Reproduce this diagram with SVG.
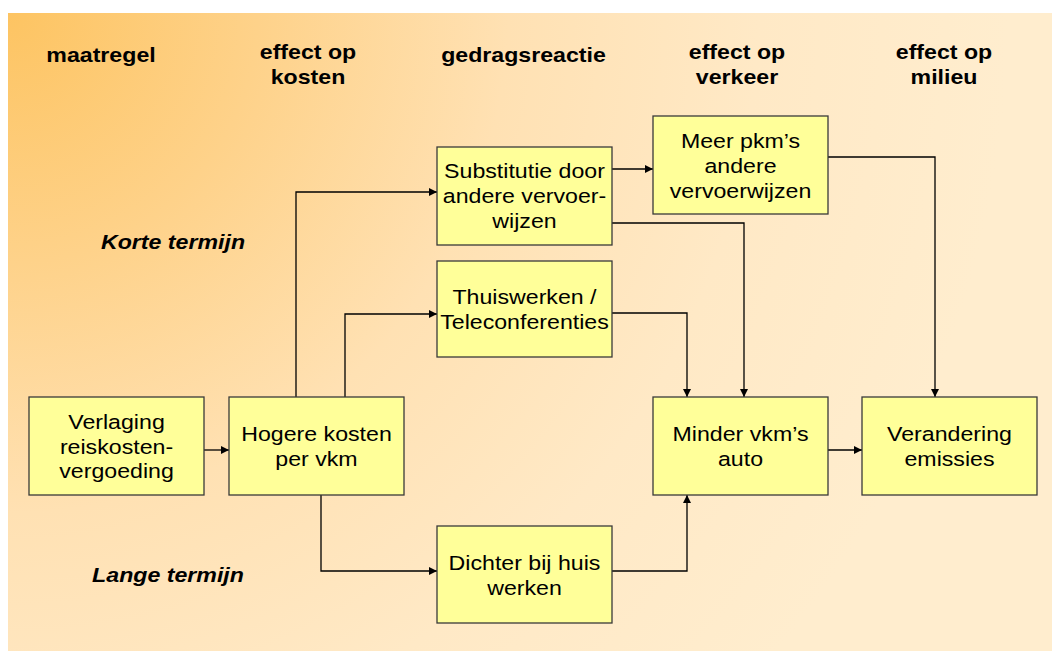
<svg xmlns="http://www.w3.org/2000/svg" width="1052" height="651" viewBox="0 0 1052 651">
  <defs>
    <radialGradient id="bg" gradientUnits="userSpaceOnUse" cx="8" cy="13" r="1000">
      <stop offset="0" stop-color="#FDC462"/>
      <stop offset="0.25" stop-color="#FED28A"/>
      <stop offset="0.5" stop-color="#FFE1B3"/>
      <stop offset="0.75" stop-color="#FFE9C6"/>
      <stop offset="1" stop-color="#FFEDCE"/>
    </radialGradient>
    <marker id="arrow" viewBox="0 0 10 10" refX="10" refY="5" markerWidth="8" markerHeight="8" markerUnits="userSpaceOnUse" orient="auto">
      <path d="M0,0 L10,5 L0,10 z" fill="#000"/>
    </marker>
    <style>
      .box { fill: #FFFF99; stroke: #3a3a3a; stroke-width: 1.3; }
      .lbl { font-family: "Liberation Sans", Arial, sans-serif; font-size: 20.5px; fill: #000; text-anchor: middle; }
      .head { font-family: "Liberation Sans", Arial, sans-serif; font-size: 20.5px; font-weight: bold; fill: #000; text-anchor: middle; }
      .term { font-family: "Liberation Sans", Arial, sans-serif; font-size: 20.5px; font-weight: bold; font-style: italic; fill: #000; text-anchor: middle; }
      .conn { fill: none; stroke: #000; stroke-width: 1.3; marker-end: url(#arrow); }
    </style>
  </defs>

  <!-- backdrop -->
  <rect x="0" y="0" width="1052" height="651" fill="#fff"/>
  <rect x="8" y="13" width="1044" height="638" fill="url(#bg)"/>

  <!-- column headings -->
  <g id="headings">
    <text class="head" transform="translate(101 61.5) scale(1.13 1)">maatregel</text>
    <text class="head" transform="translate(308 59) scale(1.13 1)"><tspan x="0">effect op</tspan><tspan x="0" dy="25">kosten</tspan></text>
    <text class="head" transform="translate(523.5 61.5) scale(1.13 1)">gedragsreactie</text>
    <text class="head" transform="translate(737 59) scale(1.13 1)"><tspan x="0">effect op</tspan><tspan x="0" dy="25">verkeer</tspan></text>
    <text class="head" transform="translate(944 59) scale(1.13 1)"><tspan x="0">effect op</tspan><tspan x="0" dy="25">milieu</tspan></text>
  </g>

  <!-- term labels -->
  <g id="terms">
    <text class="term" transform="translate(173 248.5) scale(1.13 1)">Korte termijn</text>
    <text class="term" transform="translate(168 581.5) scale(1.13 1)">Lange termijn</text>
  </g>

  <!-- connectors -->
  <g id="connectors">
    <path class="conn" d="M204,450 H229"/>
    <path class="conn" d="M296,397 V192 H437"/>
    <path class="conn" d="M345,397 V314 H437"/>
    <path class="conn" d="M321,495 V571 H437"/>
    <path class="conn" d="M612,571 H687 V495"/>
    <path class="conn" d="M612,313 H687 V397"/>
    <path class="conn" d="M612,223 H744 V397"/>
    <path class="conn" d="M612,169 H653"/>
    <path class="conn" d="M827,157 H935 V397"/>
    <path class="conn" d="M828,450 H862"/>
  </g>

  <!-- nodes -->
  <g id="verlaging">
    <rect class="box" x="29" y="397" width="175" height="98"/>
    <text class="lbl" transform="translate(116.5 453.5) scale(1.13 1)"><tspan x="0" dy="-25">Verlaging</tspan><tspan x="0" dy="25">reiskosten-</tspan><tspan x="0" dy="25">vergoeding</tspan></text>
  </g>
  <g id="hogere-kosten">
    <rect class="box" x="229" y="397" width="175" height="98"/>
    <text class="lbl" transform="translate(316.5 441) scale(1.13 1)"><tspan x="0">Hogere kosten</tspan><tspan x="0" dy="25">per vkm</tspan></text>
  </g>
  <g id="substitutie">
    <rect class="box" x="437" y="147" width="175" height="98"/>
    <text class="lbl" transform="translate(524.5 203) scale(1.13 1)"><tspan x="0" dy="-25">Substitutie door</tspan><tspan x="0" dy="25">andere vervoer-</tspan><tspan x="0" dy="25">wijzen</tspan></text>
  </g>
  <g id="thuiswerken">
    <rect class="box" x="437" y="261" width="175" height="96"/>
    <text class="lbl" transform="translate(524.5 304) scale(1.13 1)"><tspan x="0">Thuiswerken /</tspan><tspan x="0" dy="25">Teleconferenties</tspan></text>
  </g>
  <g id="dichter-bij-huis">
    <rect class="box" x="437" y="526" width="175" height="97"/>
    <text class="lbl" transform="translate(524.5 570) scale(1.13 1)"><tspan x="0">Dichter bij huis</tspan><tspan x="0" dy="25">werken</tspan></text>
  </g>
  <g id="meer-pkm">
    <rect class="box" x="653" y="116" width="175" height="98"/>
    <text class="lbl" transform="translate(740.5 173) scale(1.13 1)"><tspan x="0" dy="-25">Meer pkm’s</tspan><tspan x="0" dy="25">andere</tspan><tspan x="0" dy="25">vervoerwijzen</tspan></text>
  </g>
  <g id="minder-vkm">
    <rect class="box" x="653" y="397" width="175" height="98"/>
    <text class="lbl" transform="translate(740.5 441) scale(1.13 1)"><tspan x="0">Minder vkm’s</tspan><tspan x="0" dy="25">auto</tspan></text>
  </g>
  <g id="verandering">
    <rect class="box" x="862" y="397" width="175" height="98"/>
    <text class="lbl" transform="translate(949.5 441) scale(1.13 1)"><tspan x="0">Verandering</tspan><tspan x="0" dy="25">emissies</tspan></text>
  </g>
</svg>
